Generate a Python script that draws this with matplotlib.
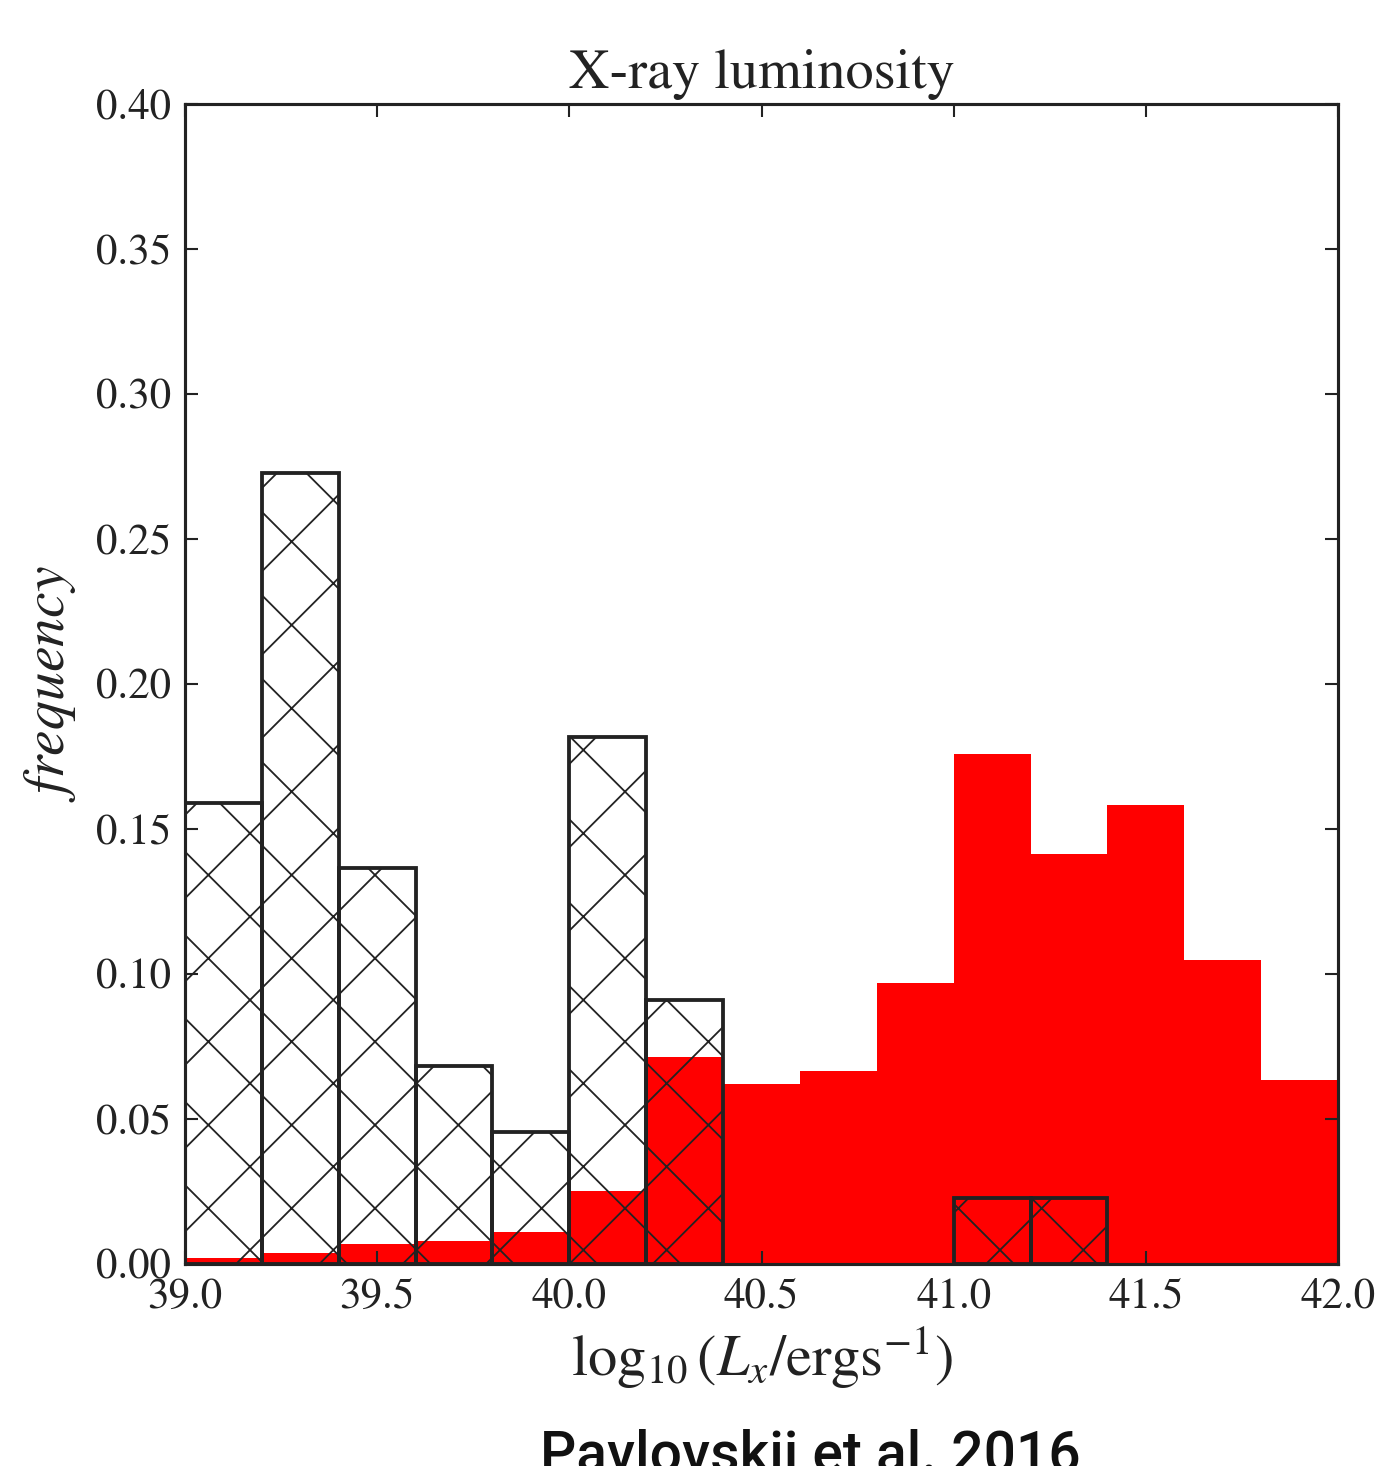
import matplotlib
matplotlib.use('Agg')
import matplotlib.pyplot as plt

plt.rcParams['font.family'] = 'STIXGeneral'
plt.rcParams['mathtext.fontset'] = 'stix'
plt.rcParams['hatch.linewidth'] = 0.26
plt.rcParams['hatch.color'] = '#111111'

# bin edges of log10(Lx)
edges = [39.0, 39.2, 39.4, 39.6, 39.8, 40.0, 40.2, 40.4, 40.6,
         40.8, 41.0, 41.2, 41.4, 41.6, 41.8, 42.0]

# filled red histogram
red_freq = [0.0019, 0.0039, 0.0070, 0.0081, 0.0112, 0.0252, 0.0713, 0.0622,
            0.0667, 0.0970, 0.1760, 0.1415, 0.1584, 0.1047, 0.0636]

# hatched (open) histogram
hatch_freq = [0.1591, 0.2727, 0.1364, 0.0682, 0.0455, 0.1818, 0.0909, 0.0,
              0.0, 0.0, 0.0227, 0.0227, 0.0, 0.0, 0.0]

DPI = 500
fig = plt.figure(figsize=(1375 / DPI, 1466 / DPI), dpi=DPI)
fig.patch.set_facecolor('white')
ax = fig.add_axes([185 / 1375, 1 - 1264 / 1466, (1338 - 185) / 1375, (1264 - 104) / 1466])

lefts = edges[:-1]
widths = [b - a for a, b in zip(edges[:-1], edges[1:])]

ax.bar(lefts, red_freq, width=widths, align='edge', color='#ff0000',
       edgecolor='none', lw=0, zorder=1)

for x, w, h in zip(lefts, widths, hatch_freq):
    if h > 0:
        ax.bar(x, h, width=w, align='edge', fill=False, hatch='xx',
               edgecolor='#222222', lw=0.55, zorder=2)

ax.set_xlim(39.0, 42.0)
ax.set_ylim(0.0, 0.40)
ax.set_xticks([39.0, 39.5, 40.0, 40.5, 41.0, 41.5, 42.0])
ax.set_yticks([0.00, 0.05, 0.10, 0.15, 0.20, 0.25, 0.30, 0.35, 0.40])
ax.xaxis.set_major_formatter(matplotlib.ticker.FormatStrFormatter('%.1f'))
ax.yaxis.set_major_formatter(matplotlib.ticker.FormatStrFormatter('%.2f'))
ax.tick_params(direction='in', length=1.9, width=0.3, labelsize=6.2,
               top=True, right=True, pad=2.0, colors='#222222')
for s in ax.spines.values():
    s.set_linewidth(0.45)
    s.set_color('#222222')
    s.set_zorder(5)

ax.set_title('X-ray luminosity', fontsize=8.1, pad=2.3, color='#222222')
ax.set_xlabel(r'$\log_{10}(L_x/\mathrm{ergs}^{-1})$', fontsize=8.4, labelpad=1.2,
              color='#222222')
ax.set_ylabel(r'$frequency$', fontsize=8.3, labelpad=2.5, color='#222222')

fig.text(540 / 1375, -0.004, 'Pavlovskii et al. 2016', ha='left', va='baseline',
         fontsize=8.2, family=['Roboto', 'DejaVu Sans'], fontweight='medium',
         color='#111111')

fig.savefig('out.png', dpi=DPI, facecolor='white')
